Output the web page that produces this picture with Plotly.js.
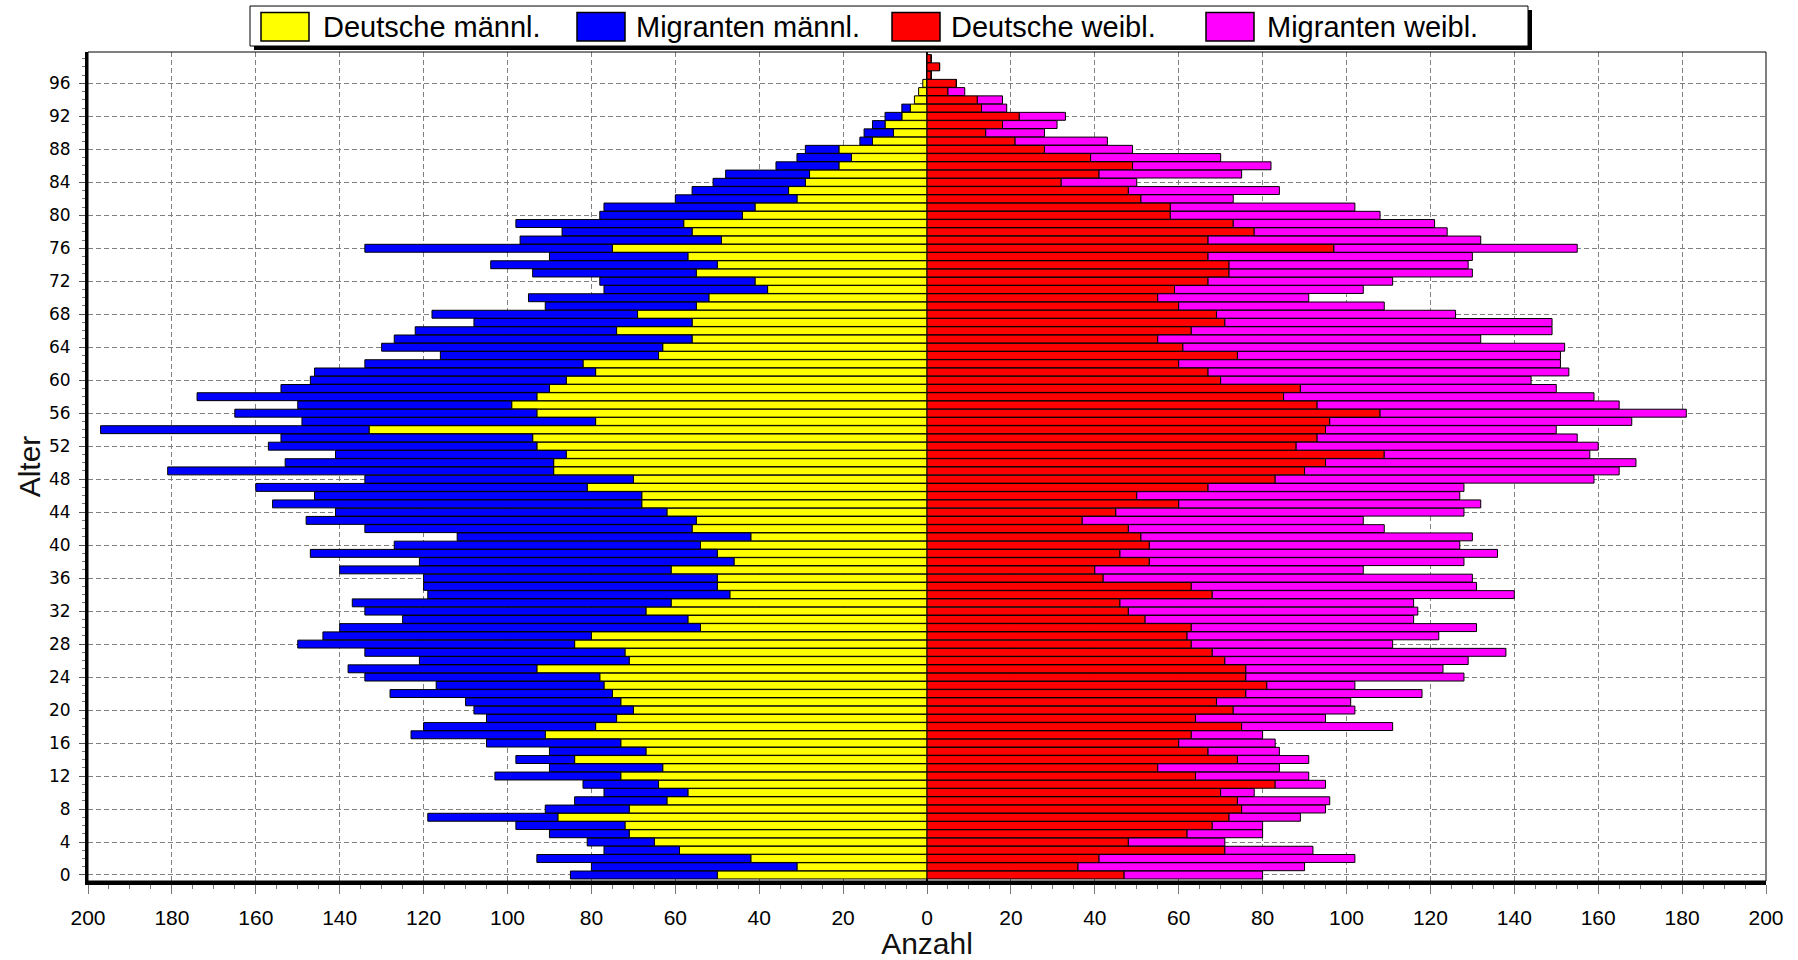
<!DOCTYPE html>
<html>
<head>
<meta charset="utf-8">
<script src="https://cdn.plot.ly/plotly-3.0.1.min.js"></script>
<style>
  html, body { margin: 0; padding: 0; background: #fff; }
  #chart { width: 1798px; height: 960px; }
</style>
</head>
<body>
<div id="chart"></div>
<script>
// Age classes 0..99
const ages = Array.from({length: 100}, (_, i) => i);

// Counts per age (index = age)
const deutscheMaennl = [
  50,31,42,59,65,71,72,88,71,62,
  57,64,73,63,84,67,73,91,79,74,
  70,73,75,77,78,93,71,72,84,80,
  54,57,67,61,47,50,50,61,46,50,
  54,42,56,55,62,68,68,81,70,89,
  89,86,93,94,133,79,93,99,93,90,
  86,79,82,64,63,56,74,56,69,55,
  52,38,41,55,50,57,75,49,56,58,
  44,41,31,33,29,28,21,18,21,13,
  8,10,6,4,3,2,1,0,0,0
];
const migrantenMaennl = [
  35,49,51,18,16,19,26,31,20,22,
  20,18,30,27,14,23,32,32,41,31,
  38,37,53,40,56,45,50,62,66,64,
  86,68,67,76,72,70,70,79,75,97,
  73,70,78,93,79,88,78,79,64,92,
  64,55,64,60,64,70,72,51,81,64,
  61,67,52,52,67,71,48,52,49,36,
  43,39,37,39,54,33,59,48,31,40,
  34,36,29,23,22,20,15,13,8,3,
  7,3,4,2,0,0,0,0,0,0
];
const deutscheWeibl = [
  47,36,41,71,48,62,68,72,75,74,
  70,83,64,55,74,67,60,63,75,64,
  73,69,76,81,76,76,71,68,63,62,
  63,52,48,46,68,63,42,40,53,46,
  53,51,48,37,45,60,50,67,83,90,
  95,109,88,93,95,96,108,93,85,89,
  70,67,60,74,61,55,63,71,69,60,
  55,59,67,72,72,67,97,67,78,73,
  58,58,51,48,32,41,49,39,28,21,
  14,18,22,13,12,5,7,1,3,1
];
const migrantenWeibl = [
  33,54,61,21,23,18,12,17,20,22,
  8,12,27,29,17,17,23,17,36,31,
  29,32,42,21,52,47,58,70,48,60,
  68,64,69,70,72,68,88,64,75,90,
  74,79,61,67,83,72,77,61,76,75,
  74,49,72,62,55,72,73,72,74,61,
  74,86,91,77,91,77,86,78,57,49,
  36,45,44,58,57,63,58,65,46,48,
  50,44,22,36,18,34,33,31,21,22,
  14,13,11,6,6,4,0,0,0,0
];

const seriesNames = ['Deutsche männl.', 'Migranten männl.', 'Deutsche weibl.', 'Migranten weibl.'];
const seriesColors = ['#FFFF00', '#0000FF', '#FF0000', '#FF00FF'];
const xTickVals = [-200,-180,-160,-140,-120,-100,-80,-60,-40,-20,0,20,40,60,80,100,120,140,160,180,200];
const xTickText = ['200','180','160','140','120','100','80','60','40','20','0','20','40','60','80','100','120','140','160','180','200'];
const yTickVals = [0,4,8,12,16,20,24,28,32,36,40,44,48,52,56,60,64,68,72,76,80,84,88,92,96];

const seriesData = [
  deutscheMaennl.map(v => -v),
  migrantenMaennl.map(v => -v),
  deutscheWeibl,
  migrantenWeibl
];

const traces = seriesData.map((xs, i) => ({
  type: 'bar',
  orientation: 'h',
  name: seriesNames[i],
  x: xs,
  y: ages,
  marker: { color: seriesColors[i], line: { color: '#000', width: 1 } },
  hoverinfo: 'skip',
  showlegend: false
}));

// pixel -> paper helpers for the plot frame (l=88, r=1766, t=52, b=881.3)
const L = 88, R = 1766, T = 52, B = 881.3;
const px = v => (v - L) / (R - L);
const py = v => (B - v) / (B - T);

const shapes = [];
const annotations = [];

// legend box with shadow
shapes.push({ type: 'rect', xref: 'paper', yref: 'paper', layer: 'above',
  x0: px(254), x1: px(1532), y0: py(50), y1: py(10),
  fillcolor: '#000', line: { width: 0 } });
shapes.push({ type: 'rect', xref: 'paper', yref: 'paper', layer: 'above',
  x0: px(250), x1: px(1528), y0: py(46), y1: py(6),
  fillcolor: '#fff', line: { color: '#000', width: 1 } });

const swatchX = [261, 577, 892, 1206];
const textX = [321, 634, 949, 1265];
seriesNames.forEach((name, i) => {
  shapes.push({ type: 'rect', xref: 'paper', yref: 'paper', layer: 'above',
    x0: px(swatchX[i]), x1: px(swatchX[i] + 48), y0: py(41), y1: py(12.5),
    fillcolor: seriesColors[i], line: { color: '#000', width: 1.5 } });
  annotations.push({ xref: 'paper', yref: 'paper', x: px(textX[i]), y: py(27),
    xanchor: 'left', yanchor: 'middle', showarrow: false, text: name,
    font: { family: 'Liberation Sans, Arial, sans-serif', size: 29, color: '#000' } });
});

// thin frame on top/right
shapes.push({ type: 'rect', xref: 'paper', yref: 'paper', layer: 'above',
  x0: 0, x1: 1, y0: 0, y1: 1, line: { color: '#000', width: 1 } });

const layout = {
  width: 1798, height: 960,
  margin: { l: L, r: 1798 - R, t: T, b: 960 - B },
  paper_bgcolor: '#fff', plot_bgcolor: '#fff',
  barmode: 'relative',
  bargap: 0.04,
  showlegend: false,
  xaxis: {
    range: [-200, 200],
    tickmode: 'array', tickvals: xTickVals, ticktext: xTickText,
    ticks: 'outside', ticklen: 9, tickcolor: '#777', tickwidth: 1,
    minor: { dtick: 5, tick0: 0, ticks: 'outside', ticklen: 4, tickcolor: '#777', showgrid: false },
    showgrid: true, gridcolor: '#808080', gridwidth: 1, griddash: '5px,3px',
    zeroline: true, zerolinecolor: '#000', zerolinewidth: 2,
    showline: true, linecolor: '#000', linewidth: 4,
    tickfont: { family: 'Liberation Sans, Arial, sans-serif', size: 21, color: '#000' },
    ticklabelstandoff: 6,
    title: { text: 'Anzahl', standoff: 8,
      font: { family: 'Liberation Sans, Arial, sans-serif', size: 30, color: '#111' } },
    automargin: false, fixedrange: true
  },
  yaxis: {
    range: [-0.73, 99.8],
    tickmode: 'array', tickvals: yTickVals,
    ticks: 'outside', ticklen: 6, tickcolor: '#555', tickwidth: 1,
    minor: { dtick: 1, tick0: 0, ticks: 'outside', ticklen: 3, tickcolor: '#777', showgrid: false },
    showgrid: true, gridcolor: '#808080', gridwidth: 1, griddash: '5px,3px',
    zeroline: false,
    showline: true, linecolor: '#000', linewidth: 3,
    tickfont: { family: 'DejaVu Sans, Verdana, sans-serif', size: 17, color: '#000' },
    ticklabelstandoff: 5,
    title: { text: 'Alter', standoff: 0,
      font: { family: 'Liberation Sans, Arial, sans-serif', size: 30, color: '#111' } },
    automargin: false, fixedrange: true
  },
  shapes: shapes,
  annotations: annotations
};

Plotly.newPlot('chart', traces, layout, { displayModeBar: false, staticPlot: true });
</script>
</body>
</html>
